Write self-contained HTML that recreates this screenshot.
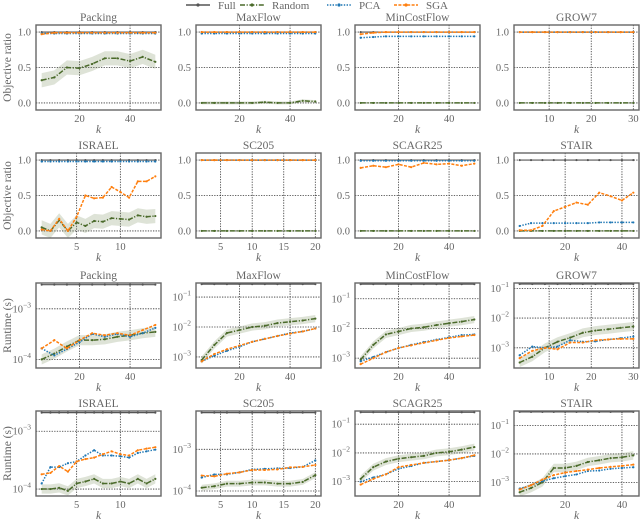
<!DOCTYPE html>
<html><head><meta charset="utf-8"><style>
html,body{margin:0;padding:0;background:#fff;}
svg, svg text{font-family:"Liberation Serif","DejaVu Serif",serif;}
</style></head><body>
<svg id="chart" width="640" height="519" viewBox="0 0 640 519" xmlns="http://www.w3.org/2000/svg" font-family="Liberation Serif, DejaVu Serif, serif">
<g id="legend"></g>
<g id="panels"></g>
</svg>
<script>
// ---- k values ----
const k5to50 = [5,10,15,20,25,30,35,40,45,50];
const k3to30 = [3,6,9,12,15,18,21,24,27,30];
const k1to14 = [1,2,3,4,5,6,7,8,9,10,11,12,13,14];
const k2to20 = [2,4,6,8,10,12,14,16,18,20];
const k4to44 = [4,8,12,16,20,24,28,32,36,40,44];
const seriesNames = ["Full","Random","PCA","SGA"];

// ---- Objective ratio ----
const objPackingFull   = [1,1,1,1,1,1,1,1,1,1];
const objPackingRandom = [0.32,0.36,0.50,0.49,0.55,0.63,0.63,0.59,0.65,0.58];
const objPackingPCA    = [0.98,0.98,0.98,0.98,0.98,0.98,0.98,0.98,0.98,0.98];
const objPackingSGA    = [0.97,0.99,0.99,0.99,0.99,0.99,0.99,0.99,0.99,0.99];
const objMaxFlowFull   = [1,1,1,1,1,1,1,1,1,1];
const objMaxFlowRandom = [0,0,0,0,0,0.01,0,0,0.03,0.02];
const objMaxFlowPCA    = [0.98,0.98,0.98,0.98,0.98,0.98,0.98,0.98,0.98,0.98];
const objMaxFlowSGA    = [1,1,1,1,1,1,1,1,1,1];
const objMinCostFull   = [1,1,1,1,1,1,1,1,1,1];
const objMinCostRandom = [0,0,0,0,0,0,0,0,0,0];
const objMinCostPCA    = [0.92,0.93,0.94,0.94,0.94,0.94,0.94,0.94,0.94,0.94];
const objMinCostSGA    = [0.97,0.99,1,1,1,1,1,1,1,1];
const objGrow7Full     = [1,1,1,1,1,1,1,1,1,1];
const objGrow7Random   = [0,0,0,0,0,0,0,0,0,0];
const objGrow7PCA      = [1,1,1,1,1,1,1,1,1,1];
const objGrow7SGA      = [1,1,1,1,1,1,1,1,1,1];
const objIsraelFull    = [1,1,1,1,1,1,1,1,1,1,1,1,1,1];
const objIsraelRandom  = [0.05,0,0.15,0,0.12,0.07,0.14,0.13,0.18,0.17,0.16,0.22,0.20,0.21];
const objIsraelPCA     = [0.98,0.98,0.98,0.98,0.98,0.98,0.98,0.98,0.98,0.98,0.98,0.98,0.98,0.98];
const objIsraelSGA     = [0.02,0,0.17,0,0.20,0.50,0.46,0.47,0.62,0.55,0.47,0.70,0.70,0.77];
const objSc205Full     = [1,1,1,1,1,1,1,1,1,1];
const objSc205Random   = [0,0,0,0,0,0,0,0,0,0];
const objSc205PCA      = [1,1,1,1,1,1,1,1,1,1];
const objSc205SGA      = [1,1,1,1,1,1,1,1,1,1];
const objScagrFull     = [1,1,1,1,1,1,1,1,1,1];
const objScagrRandom   = [0,0,0,0,0,0,0,0,0,0];
const objScagrPCA      = [0.99,0.99,0.99,0.99,0.99,0.99,0.99,0.99,0.99,0.99];
const objScagrSGA      = [0.89,0.92,0.90,0.94,0.90,0.96,0.94,0.95,0.92,0.95];
const objStairFull     = [1,1,1,1,1,1,1,1,1,1,1];
const objStairRandom   = [0,0,0,0,0,0,0,0,0,0,0];
const objStairPCA      = [0.07,0.11,0.11,0.11,0.11,0.11,0.11,0.12,0.12,0.12,0.12];
const objStairSGA      = [0.01,0.01,0.07,0.28,0.34,0.40,0.37,0.54,0.49,0.43,0.54];

// ---- Runtime (seconds) ----
const rtPackingFull   = [3.0e-3,3.0e-3,3.0e-3,3.0e-3,3.0e-3,3.0e-3,3.0e-3,3.0e-3,3.0e-3,3.0e-3];
const rtPackingRandom = [1.0e-4,1.3e-4,1.8e-4,2.4e-4,2.4e-4,2.5e-4,2.8e-4,3.0e-4,3.3e-4,3.5e-4];
const rtPackingPCA    = [1.65e-4,1.2e-4,1.6e-4,2.2e-4,3.2e-4,2.8e-4,3.2e-4,2.8e-4,3.3e-4,4.2e-4];
const rtPackingSGA    = [1.65e-4,2.4e-4,1.65e-4,2.4e-4,3.3e-4,3.0e-4,3.3e-4,3.0e-4,3.8e-4,4.8e-4];
const rtMaxFlowFull   = [0.27,0.27,0.27,0.27,0.27,0.27,0.27,0.27,0.27,0.27];
const rtMaxFlowRandom = [7.9e-4,2.5e-3,6.3e-3,7.9e-3,1.0e-2,1.1e-2,1.35e-2,1.5e-2,1.65e-2,1.9e-2];
const rtMaxFlowPCA    = [7.1e-4,1.1e-3,1.6e-3,2.2e-3,3.2e-3,4.0e-3,5.0e-3,6.3e-3,7.1e-3,8.9e-3];
const rtMaxFlowSGA    = [7.1e-4,1.25e-3,1.8e-3,2.4e-3,3.2e-3,4.0e-3,5.0e-3,6.0e-3,7.1e-3,8.9e-3];
const rtMinCostFull   = [0.31,0.31,0.31,0.31,0.31,0.31,0.31,0.31,0.31,0.31];
const rtMinCostRandom = [8.9e-4,2.8e-3,6.3e-3,7.9e-3,1.0e-2,1.1e-2,1.3e-2,1.5e-2,1.7e-2,2.0e-2];
const rtMinCostPCA    = [7.9e-4,1.1e-3,1.6e-3,2.2e-3,2.8e-3,3.5e-3,4.2e-3,5.0e-3,6.0e-3,6.3e-3];
const rtMinCostSGA    = [6.3e-4,1.0e-3,1.6e-3,2.2e-3,2.7e-3,3.3e-3,4.0e-3,4.8e-3,5.4e-3,6.0e-3];
const rtGrow7Full     = [0.14,0.14,0.14,0.14,0.14,0.14,0.14,0.14,0.14,0.14];
const rtGrow7Random   = [3.2e-4,5.0e-4,1.0e-3,1.6e-3,2.2e-3,3.2e-3,3.8e-3,4.2e-3,4.7e-3,5.2e-3];
const rtGrow7PCA      = [5.6e-4,1.1e-3,1.0e-3,1.1e-3,1.8e-3,1.6e-3,1.65e-3,1.9e-3,2.1e-3,2.4e-3];
const rtGrow7SGA      = [4.5e-4,7.9e-4,1.0e-3,8.9e-4,1.5e-3,1.5e-3,1.8e-3,1.9e-3,2.0e-3,2.0e-3];
const rtIsraelFull    = [2.1e-3,2.1e-3,2.1e-3,2.1e-3,2.1e-3,2.1e-3,2.1e-3,2.1e-3,2.1e-3,2.1e-3,2.1e-3,2.1e-3,2.1e-3,2.1e-3];
const rtIsraelRandom  = [1.0e-4,1.0e-4,1.05e-4,9.3e-5,1.25e-4,1.35e-4,1.5e-4,1.25e-4,1.25e-4,1.35e-4,1.25e-4,1.5e-4,1.25e-4,1.5e-4];
const rtIsraelPCA     = [1.25e-4,2.4e-4,2.4e-4,2.8e-4,3.0e-4,3.8e-4,4.7e-4,3.8e-4,3.8e-4,3.7e-4,3.5e-4,4.2e-4,4.5e-4,4.8e-4];
const rtIsraelSGA     = [1.8e-4,1.9e-4,2.5e-4,2.0e-4,3.0e-4,3.3e-4,3.5e-4,4.0e-4,4.5e-4,4.0e-4,3.8e-4,4.7e-4,5.0e-4,5.3e-4];
const rtSc205Full     = [7.6e-3,7.6e-3,7.6e-3,7.6e-3,7.6e-3,7.6e-3,7.6e-3,7.6e-3,7.6e-3,7.6e-3];
const rtSc205Random   = [1.2e-4,1.3e-4,1.5e-4,1.5e-4,1.6e-4,1.6e-4,1.5e-4,1.5e-4,1.65e-4,2.4e-4];
const rtSc205PCA      = [2.1e-4,2.5e-4,2.5e-4,2.8e-4,3.3e-4,3.4e-4,3.5e-4,3.55e-4,3.8e-4,5.4e-4];
const rtSc205SGA      = [2.35e-4,2.25e-4,2.6e-4,2.8e-4,3.2e-4,3.2e-4,3.3e-4,3.7e-4,3.8e-4,4.2e-4];
const rtScagrFull     = [0.26,0.26,0.26,0.26,0.26,0.26,0.26,0.26,0.26,0.26];
const rtScagrRandom   = [1.25e-3,3.2e-3,5.0e-3,6.3e-3,7.1e-3,7.9e-3,1.0e-2,1.1e-2,1.3e-2,1.6e-2];
const rtScagrPCA      = [1.0e-3,1.4e-3,1.8e-3,2.8e-3,3.5e-3,4.5e-3,5.0e-3,5.6e-3,6.6e-3,7.9e-3];
const rtScagrSGA      = [7.9e-4,1.25e-3,1.8e-3,3.2e-3,3.8e-3,4.5e-3,5.0e-3,5.6e-3,6.6e-3,8.3e-3];
const rtStairFull     = [0.3,0.3,0.3,0.3,0.3,0.3,0.3,0.3,0.3,0.3,0.3];
const rtStairRandom   = [4.5e-4,6.3e-4,1.0e-3,3.2e-3,3.2e-3,3.8e-3,5.2e-3,6.0e-3,7.1e-3,7.6e-3,8.9e-3];
const rtStairPCA      = [6.0e-4,7.9e-4,1.1e-3,1.4e-3,1.65e-3,1.9e-3,2.5e-3,2.6e-3,3.0e-3,3.2e-3,3.4e-3];
const rtStairSGA      = [5.6e-4,7.9e-4,1.25e-3,1.8e-3,2.2e-3,2.5e-3,2.8e-3,3.2e-3,3.5e-3,3.8e-3,4.2e-3];

// ---- tick labels ----
const xTicks50 = [20,40];
const xTicks30 = [10,20,30];
const xTicks14 = [5,10];
const xTicks20 = [5,10,15,20];
const xTicks44 = [20,40];
const objYTicks = [0.0,0.5,1.0];
const objYTickLabels = ["0.0","0.5","1.0"];

const NS = "http://www.w3.org/2000/svg";
const FONT = "Liberation Serif, DejaVu Serif, serif";
const TXT = "#666";
const colors = {Full:"#555555", Random:"#4a6a2a", PCA:"#1f77b4", SGA:"#ff7f0e"};
const dashes = {Full:"", Random:"5,1.6,1.2,1.6", PCA:"1.4,1.4", SGA:"3,1.4"};
const colLeft = [36,196,355,514];
const rowTop = [25,153,283,411];
const W = 125, H = 85;

function mk(tag, attrs, parent){
  const e = document.createElementNS(NS, tag);
  for (const a in attrs) e.setAttribute(a, attrs[a]);
  if (tag === "text") e.setAttribute("font-family", FONT);
  if (parent) parent.appendChild(e);
  return e;
}

const panels = [
 {r:0,c:0,t:"Packing",k:k5to50,xl:[2.75,52.25],xt:xTicks50,log:false,yl:[-0.1,1.1],s:[objPackingFull,objPackingRandom,objPackingPCA,objPackingSGA],band:0.1},
 {r:0,c:1,t:"MaxFlow",k:k5to50,xl:[2.75,52.25],xt:xTicks50,log:false,yl:[-0.1,1.1],s:[objMaxFlowFull,objMaxFlowRandom,objMaxFlowPCA,objMaxFlowSGA],band:0.02},
 {r:0,c:2,t:"MinCostFlow",k:k5to50,xl:[2.75,52.25],xt:xTicks50,log:false,yl:[-0.1,1.1],s:[objMinCostFull,objMinCostRandom,objMinCostPCA,objMinCostSGA],band:0.005},
 {r:0,c:3,t:"GROW7",k:k3to30,xl:[1.65,31.35],xt:xTicks30,log:false,yl:[-0.1,1.1],s:[objGrow7Full,objGrow7Random,objGrow7PCA,objGrow7SGA],band:0.005},
 {r:1,c:0,t:"ISRAEL",k:k1to14,xl:[0.35,14.65],xt:xTicks14,log:false,yl:[-0.1,1.1],s:[objIsraelFull,objIsraelRandom,objIsraelPCA,objIsraelSGA],band:0.1},
 {r:1,c:1,t:"SC205",k:k2to20,xl:[1.1,20.9],xt:xTicks20,log:false,yl:[-0.1,1.1],s:[objSc205Full,objSc205Random,objSc205PCA,objSc205SGA],band:0.005},
 {r:1,c:2,t:"SCAGR25",k:k5to50,xl:[2.75,52.25],xt:xTicks50,log:false,yl:[-0.1,1.1],s:[objScagrFull,objScagrRandom,objScagrPCA,objScagrSGA],band:0.005},
 {r:1,c:3,t:"STAIR",k:k4to44,xl:[2,46],xt:xTicks44,log:false,yl:[-0.1,1.1],s:[objStairFull,objStairRandom,objStairPCA,objStairSGA],band:0.005},
 {r:2,c:0,t:"Packing",k:k5to50,xl:[2.75,52.25],xt:xTicks50,log:true,yl:[-4.17,-2.49],s:[rtPackingFull,rtPackingRandom,rtPackingPCA,rtPackingSGA],band:0.1},
 {r:2,c:1,t:"MaxFlow",k:k5to50,xl:[2.75,52.25],xt:xTicks50,log:true,yl:[-3.37,-0.53],s:[rtMaxFlowFull,rtMaxFlowRandom,rtMaxFlowPCA,rtMaxFlowSGA],band:0.12},
 {r:2,c:2,t:"MinCostFlow",k:k5to50,xl:[2.75,52.25],xt:xTicks50,log:true,yl:[-3.33,-0.47],s:[rtMinCostFull,rtMinCostRandom,rtMinCostPCA,rtMinCostSGA],band:0.12},
 {r:2,c:3,t:"GROW7",k:k3to30,xl:[1.65,31.35],xt:xTicks30,log:true,yl:[-3.68,-0.82],s:[rtGrow7Full,rtGrow7Random,rtGrow7PCA,rtGrow7SGA],band:0.15},
 {r:3,c:0,t:"ISRAEL",k:k1to14,xl:[0.35,14.65],xt:xTicks14,log:true,yl:[-4.12,-2.65],s:[rtIsraelFull,rtIsraelRandom,rtIsraelPCA,rtIsraelSGA],band:0.08},
 {r:3,c:1,t:"SC205",k:k2to20,xl:[1.1,20.9],xt:xTicks20,log:true,yl:[-4.12,-2.08],s:[rtSc205Full,rtSc205Random,rtSc205PCA,rtSc205SGA],band:0.07},
 {r:3,c:2,t:"SCAGR25",k:k5to50,xl:[2.75,52.25],xt:xTicks50,log:true,yl:[-3.5,-0.54],s:[rtScagrFull,rtScagrRandom,rtScagrPCA,rtScagrSGA],band:0.12},
 {r:3,c:3,t:"STAIR",k:k4to44,xl:[2,46],xt:xTicks44,log:true,yl:[-3.48,-0.49],s:[rtStairFull,rtStairRandom,rtStairPCA,rtStairSGA],band:0.15}
];

const root = document.getElementById("panels");
panels.forEach(p=>{
  const x0 = colLeft[p.c], y0 = rowTop[p.r];
  const g = mk("g",{},root);
  
  
  const xs = v => x0 + (v - p.xl[0])/(p.xl[1]-p.xl[0])*W;
  const yv = v => p.log ? Math.log10(v) : v;
  const ys = v => y0 + H - (yv(v) - p.yl[0])/(p.yl[1]-p.yl[0])*H;
  const ysRaw = l => y0 + H - (l - p.yl[0])/(p.yl[1]-p.yl[0])*H;
  const tt = mk("text",{x:x0+W/2,y:y0-4,"text-anchor":"middle","font-size":"11.5",fill:TXT},g);
  tt.textContent = p.t;
  
  
  p.xt.forEach(t=>{
    const X = xs(t);
    const gl = mk("line",{x1:X,x2:X,y1:y0,y2:y0+H,stroke:"#333","stroke-width":"0.8","stroke-dasharray":"1.3,1.3"},g);
    
    
    const tl = mk("text",{x:X,y:y0+H+12,"text-anchor":"middle","font-size":"10.5",fill:TXT},g);
    tl.textContent = t;
    
    
  });
  const xl = mk("text",{x:x0+W/2,y:y0+H+23,"text-anchor":"middle","font-size":"11.5","font-style":"italic",fill:TXT},g);
  xl.textContent = "k";
  
  
  let yticks = [];
  if (p.log) {
    for (let e = Math.ceil(p.yl[0]); e <= Math.floor(p.yl[1]); e++) yticks.push({l:e, lab:e});
  } else {
    objYTicks.forEach((v,i)=>yticks.push({l:v, lab:objYTickLabels[i]}));
  }
  yticks.forEach(t=>{
    const Y = ysRaw(t.l);
    const gl = mk("line",{x1:x0,x2:x0+W,y1:Y,y2:Y,stroke:"#333","stroke-width":"0.8","stroke-dasharray":"1.3,1.3"},g);
    
    
    const tl = mk("text",{x:x0-5,y:Y+3.5,"text-anchor":"end","font-size":"10.5",fill:TXT},g);
    if (p.log) {
      const a = mk("tspan",{},tl); a.textContent = "10";
      const b = mk("tspan",{dy:"-5","font-size":"7.5"},tl); b.textContent = "\u2212" + Math.abs(t.lab);
    } else tl.textContent = t.lab;
    
    
  });
  if (p.c === 0) {
    const cy = y0 + H/2;
    const yt = mk("text",{x:0,y:0,"text-anchor":"middle","font-size":"11.5",fill:TXT,transform:`translate(11,${cy}) rotate(-90)`},g);
    yt.textContent = p.log ? "Runtime (s)" : "Objective ratio";
    
    
  }
  const cid = "clip" + p.r + p.c;
  const cp = mk("clipPath",{id:cid},g);
  mk("rect",{x:x0,y:y0,width:W,height:H},cp);
  const pg = mk("g",{"clip-path":`url(#${cid})`},g);
  const rnd = p.s[1];
  let up = [], dn = [];
  p.k.forEach((kv,i)=>{
    const l = yv(rnd[i]);
    up.push(xs(kv)+","+ysRaw(l+p.band));
    dn.unshift(xs(kv)+","+ysRaw(l-p.band));
  });
  const band = mk("polygon",{points:up.concat(dn).join(" "),fill:"#7d8f60","fill-opacity":"0.25",stroke:"none"},pg);
  
  
  seriesNames.forEach((nm,si)=>{
    const vals = p.s[si];
    const pts = p.k.map((kv,i)=>xs(kv)+","+ys(vals[i])).join(" ");
    const ln = mk("polyline",{points:pts,fill:"none",stroke:colors[nm],"stroke-width":nm==="Full"?"1.2":"1.5","stroke-dasharray":dashes[nm]},pg);
    
    
    p.k.forEach((kv,i)=>{
      const m = mk("circle",{cx:xs(kv),cy:ys(vals[i]),r:"1.1",fill:colors[nm]},pg);
      
      
    });
  });
  const fr = mk("rect",{x:x0,y:y0,width:W,height:H,fill:"none",stroke:"#666","stroke-width":"1.4"},g);
  
  
});

const lg = document.getElementById("legend");
const legX = [186,240,327,394];
seriesNames.forEach((nm,i)=>{
  const g = mk("g",{},lg);
  
  
  const x = legX[i];
  mk("line",{x1:x,x2:x+24,y1:5,y2:5,stroke:colors[nm],"stroke-width":"1.4","stroke-dasharray":dashes[nm]},g);
  mk("circle",{cx:x+12,cy:5,r:"1.6",fill:colors[nm]},g);
  const t = mk("text",{x:x+32,y:9,"font-size":"11",fill:TXT},g);
  t.textContent = nm;
});
</script>
</body></html>
